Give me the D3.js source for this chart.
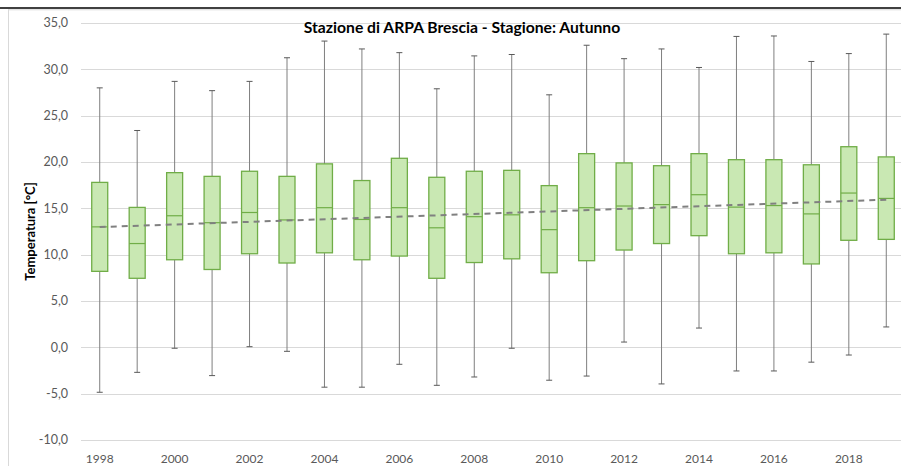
<!DOCTYPE html>
<html>
<head>
<meta charset="utf-8">
<script src="https://cdn.jsdelivr.net/npm/d3@7"></script>
<style>
  html, body { margin: 0; padding: 0; background: #fff; }
  svg { display: block; }
</style>
</head>
<body>
<svg id="chart" width="901" height="466"></svg>
<script>
// data
const years = d3.range(1998, 2020);
const maxV = [28.0, 23.4, 28.7, 27.7, 28.7, 31.25, 33.05, 32.2, 31.8, 27.9, 31.45, 31.6, 27.25, 32.6, 31.15, 32.2, 30.2, 33.55, 33.6, 30.85, 31.7, 33.8];
const q3V = [17.8, 15.1, 18.85, 18.45, 19.0, 18.45, 19.8, 18.0, 20.4, 18.35, 19.0, 19.1, 17.45, 20.9, 19.9, 19.6, 20.9, 20.25, 20.25, 19.7, 21.65, 20.55];
const medV = [13.0, 11.2, 14.2, 13.45, 14.55, 13.75, 15.07, 13.8, 15.07, 12.9, 14.1, 14.3, 12.7, 15.07, 15.25, 15.4, 16.47, 15.13, 15.3, 14.4, 16.65, 16.07];
const q1V = [8.2, 7.45, 9.45, 8.4, 10.1, 9.1, 10.2, 9.45, 9.85, 7.45, 9.15, 9.55, 8.05, 9.35, 10.5, 11.2, 12.05, 10.1, 10.2, 9.0, 11.55, 11.65];
const minV = [-4.85, -2.7, -0.1, -3.05, 0.07, -0.43, -4.3, -4.3, -1.83, -4.1, -3.2, -0.1, -3.55, -3.1, 0.57, -3.95, 2.08, -2.55, -2.55, -1.6, -0.83, 2.2];
const trendYears = [1998, 2019];
const trendV = [12.98, 15.93];
const yTicks = [-10, -5, 0, 5, 10, 15, 20, 25, 30, 35];
const xLabelYears = years.filter((d, i) => i % 2 === 0);

const FONT = "Lato, 'Open Sans', sans-serif";
const svg = d3.select("#chart");

// outer frame (top black rule and grey chart border)
svg.append("line")
  .attr("x1", 0).attr("x2", 901).attr("y1", 8).attr("y2", 8)
  .attr("stroke", "#000").attr("stroke-width", 1.5);
svg.append("line")
  .attr("x1", 8).attr("x2", 901).attr("y1", 9.8).attr("y2", 9.8)
  .attr("stroke", "#d9d9d9").attr("stroke-width", 1);
svg.append("line")
  .attr("x1", 8.5).attr("x2", 8.5).attr("y1", 9.5).attr("y2", 466)
  .attr("stroke", "#d9d9d9").attr("stroke-width", 1);

const x = d3.scaleBand().domain(years).range([81, 905]);
const y = d3.scaleLinear().domain([-10, 35]).range([440, 23]);

// gridlines
svg.append("g")
  .selectAll("line")
  .data(yTicks)
  .join("line")
  .attr("x1", 81).attr("x2", 905)
  .attr("y1", (d) => Math.round(y(d)) + 0.5)
  .attr("y2", (d) => Math.round(y(d)) + 0.5)
  .attr("stroke", "#d9d9d9")
  .attr("stroke-width", 1);

// y labels
svg.append("g")
  .selectAll("text")
  .data(yTicks)
  .join("text")
  .attr("x", 68)
  .attr("y", (d) => y(d))
  .attr("dy", "0.35em")
  .attr("text-anchor", "end")
  .style("font-family", FONT)
  .style("font-size", "12.5px")
  .style("fill", "#595959")
  .text((d) => d3.format(".1f")(d).replace(".", ",").replace("−", "-"));

// x labels
svg.append("g")
  .selectAll("text")
  .data(xLabelYears)
  .join("text")
  .attr("x", (d) => x(d) + x.bandwidth() / 2)
  .attr("y", 463)
  .attr("text-anchor", "middle")
  .style("font-family", FONT)
  .style("font-size", "12px")
  .style("fill", "#595959")
  .text((d) => d);

// boxes
const boxW = 16;
const capW = 6;
const boxes = svg.append("g");
years.forEach((yr, i) => {
  const cx = x(yr) + x.bandwidth() / 2;
  const g = boxes.append("g");
  // whiskers
  g.append("line")
    .attr("x1", cx).attr("x2", cx)
    .attr("y1", y(maxV[i])).attr("y2", y(q3V[i]))
    .attr("stroke", "#7f7f7f").attr("stroke-width", 1);
  g.append("line")
    .attr("x1", cx).attr("x2", cx)
    .attr("y1", y(q1V[i])).attr("y2", y(minV[i]))
    .attr("stroke", "#7f7f7f").attr("stroke-width", 1);
  [maxV[i], minV[i]].forEach((v) => {
    g.append("line")
      .attr("x1", cx - capW / 2).attr("x2", cx + capW / 2)
      .attr("y1", y(v)).attr("y2", y(v))
      .attr("stroke", "#595959").attr("stroke-width", 1);
  });
  g.append("rect")
    .attr("x", cx - boxW / 2)
    .attr("y", y(q3V[i]))
    .attr("width", boxW)
    .attr("height", y(q1V[i]) - y(q3V[i]))
    .attr("fill", "#c9e8b3")
    .attr("stroke", "#70ad47")
    .attr("stroke-width", 1.3);
  g.append("line")
    .attr("x1", cx - boxW / 2).attr("x2", cx + boxW / 2)
    .attr("y1", y(medV[i])).attr("y2", y(medV[i]))
    .attr("stroke", "#70ad47").attr("stroke-width", 1.2);
});

// linear trend line
const trendLine = d3.line()
  .x((d, i) => x(trendYears[i]) + x.bandwidth() / 2)
  .y((d) => y(d));
svg.append("path")
  .attr("d", trendLine(trendV))
  .attr("fill", "none")
  .attr("stroke", "#808080")
  .attr("stroke-width", 2)
  .attr("stroke-dasharray", "6,5");

// title
svg.append("text")
  .attr("x", 462)
  .attr("y", 33)
  .attr("text-anchor", "middle")
  .style("font-family", FONT)
  .style("font-size", "15.7px")
  .style("font-weight", "bold")
  .style("fill", "#000")
  .text("Stazione di ARPA Brescia - Stagione: Autunno");

// y axis title
svg.append("text")
  .attr("transform", `translate(35, ${(y(35) + y(-10)) / 2}) rotate(-90)`)
  .attr("text-anchor", "middle")
  .style("font-family", FONT)
  .style("font-size", "13px")
  .style("font-weight", "bold")
  .style("fill", "#000")
  .text("Temperatura [°C]");
</script>
</body>
</html>
